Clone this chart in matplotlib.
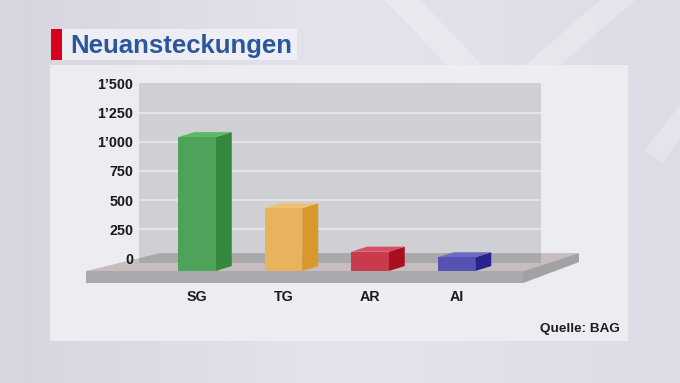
import numpy as np
import matplotlib
matplotlib.use("Agg")
import matplotlib.pyplot as plt
from matplotlib.patches import Rectangle, Polygon

plt.rcParams['font.family'] = ['Liberation Sans', 'DejaVu Sans']

# data
cantons = ["SG", "TG", "AR", "AI"]
new_cases = [1040, 430, 57, 9]
y_ticks = [0, 250, 500, 750, 1000, 1250, 1500]
front_col = ["#4ea35a", "#e9b25c", "#c93a4c", "#5552b3"]
side_col = ["#35893f", "#d8982c", "#a8101f", "#26238e"]
top_col = ["#5fb76a", "#f1c272", "#d65061", "#6d6ac2"]

W, H = 680, 383
fig = plt.figure(figsize=(W / 100, H / 100), dpi=100)

# background layer in pixel coords
ax0 = fig.add_axes([0, 0, 1, 1])
ax0.set_xlim(0, W)
ax0.set_ylim(H, 0)
ax0.axis("off")
grad = np.linspace(0, 1, 200)[None, :]
bg_cmap = matplotlib.colors.LinearSegmentedColormap.from_list("bg", ["#d6d5e0", "#e4e4ec", "#dcdce6"])
ax0.imshow(grad, extent=(0, W, H, 0), aspect="auto", cmap=bg_cmap, zorder=0)
# faint diagonal strokes of the backdrop
for pts in [[(385, 0), (420, 0), (515, 100), (480, 100)], [(600, 0), (635, 0), (520, 100), (485, 100)],
            [(645, 150), (680, 105), (680, 140), (662, 163)]]:
    ax0.add_patch(Polygon(pts, closed=True, color="white", alpha=0.25, lw=0, zorder=1))
ax0.add_patch(Rectangle((50, 65), 578, 276, color="#eeeef3", alpha=0.92, lw=0, zorder=2))
ax0.add_patch(Rectangle((51, 29), 11, 31, color="#d8001c", lw=0, zorder=3))
ax0.add_patch(Rectangle((62, 29), 235, 31, color="#f1f1f6", alpha=0.85, lw=0, zorder=3))
ax0.text(70, 53.3, "Neuansteckungen", fontsize=18.5, weight="bold", color="#2a579c", va="baseline", zorder=4)
ax0.text(620, 332, "Quelle: BAG", fontsize=9.7, weight="bold", color="#1e1e1e", ha="right", va="baseline", zorder=4)

# chart axes = back wall
ax = fig.add_axes([139 / W, (H - 263) / H, 402 / W, (263 - 83.5) / H])
ax.set_facecolor("#cfd0d4")
ax.set_xlim(-0.6705, 3.977)
ax.set_ylim(-40, 1500)
for s in ax.spines.values():
    s.set_visible(False)

for t in y_ticks[1:-1]:
    ax.axhline(t, color="#e6e6ea", lw=1.3, zorder=1)

x = np.arange(len(cantons))
ax.set_xticks(x, cantons)
ax.set_yticks(y_ticks, [f"{v:,}".replace(",", "’") for v in y_ticks])
ax.tick_params(axis="both", length=0, labelsize=10.3, labelcolor="#1a1a1a")
ax.tick_params(axis="y", pad=4.2)
ax.tick_params(axis="x", pad=19.5)
for lab in ax.get_xticklabels() + ax.get_yticklabels():
    lab.set_fontweight("bold")
ax.yaxis.set_zorder(6)
ax.xaxis.set_zorder(6)

# floor slab
floor_back, floor_front, floor_bottom, floor_side_low = 45, -109, -212, -32
fl, fr, bl, br = -1.283, 3.769, -0.428, 4.416
floor_top = Polygon([(fl, floor_front), (fr, floor_front), (br, floor_back), (bl, floor_back)],
                    closed=True, color="#c7bdbe", lw=0, zorder=2, clip_on=False)
ax.add_patch(floor_top)
ax.add_patch(Polygon([(fl, floor_front), (fr, floor_front), (fr, floor_bottom), (fl, floor_bottom)],
                     closed=True, color="#aaaaac", lw=0, zorder=2, clip_on=False))
ax.add_patch(Polygon([(fr, floor_front), (br, floor_back), (br, floor_side_low), (fr, floor_bottom)],
                     closed=True, color="#a2a2a4", lw=0, zorder=2, clip_on=False))
band = ax.axhspan(-40, floor_back, color="#a9a9ab", lw=0, zorder=2.5)
band.set_clip_path(floor_top)

# bars with depth
bw, dx, dy = 0.434, 0.185, 43
ax.bar(x, [v - floor_front for v in new_cases], bottom=floor_front, width=bw,
       color=front_col, zorder=4, clip_on=False)
for i, v in enumerate(new_cases):
    xr = x[i] + bw / 2
    xl = x[i] - bw / 2
    ax.add_patch(Polygon([(xr, floor_front), (xr + dx, floor_front + dy), (xr + dx, v + dy), (xr, v)],
                         closed=True, color=side_col[i], lw=0, zorder=3.5, clip_on=False))
    ax.add_patch(Polygon([(xl, v), (xr, v), (xr + dx, v + dy), (xl + dx, v + dy)],
                         closed=True, color=top_col[i], lw=0, zorder=3.5, clip_on=False))

fig.savefig("out.png", dpi=100)
